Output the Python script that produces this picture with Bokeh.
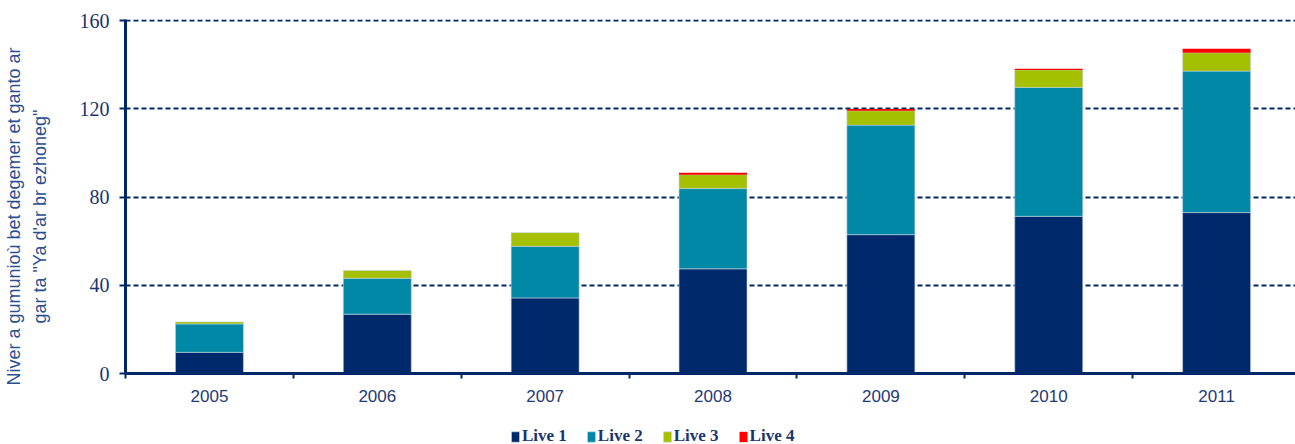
import numpy as np
from bokeh.plotting import figure
from bokeh.layouts import column
from bokeh.models import (ColumnDataSource, Range1d, FixedTicker, LinearAxis, Legend,
                          LegendItem)
from bokeh.embed import file_html
from bokeh.resources import INLINE

# ---- data ----
years = ["2005", "2006", "2007", "2008", "2009", "2010", "2011"]
live1 = [9.6, 26.9, 34.3, 47.5, 63.0, 71.3, 73.0]
live2 = [12.9, 16.3, 23.4, 36.4, 49.7, 58.5, 64.2]
live3 = [0.9, 3.5, 6.2, 6.3, 6.5, 7.9, 8.3]
live4 = [0.0, 0.0, 0.0, 0.9, 0.8, 0.6, 1.8]
series = ["Live 1", "Live 2", "Live 3", "Live 4"]
colors = ["#00296B", "#0088A6", "#A4C000", "#FF0000"]
y_ticks = [0, 40, 80, 120, 160]
y_title_lines = ["Niver a gumunioù bet degemer et ganto ar",
                 'gar ta "Ya d\'ar br ezhoneg"']

NAVY = "#002868"
PAD = "\u00a0" * 8   # nudges the centred, rotated title towards the bottom

pos = [i + 0.5 for i in range(len(years))]
source = ColumnDataSource(dict(x=pos, **{"Live 1": live1, "Live 2": live2,
                                         "Live 3": live3, "Live 4": live4}))

p = figure(width=1295, height=418, output_backend="svg", toolbar_location=None,
           x_range=Range1d(0, 6.97), y_range=Range1d(0, 160.6),
           x_axis_location=None, y_axis_location=None,
           min_border_left=124, min_border_right=0, min_border_top=19,
           min_border_bottom=45)
p.outline_line_color = None
p.background_fill_color = "white"
p.border_fill_color = "white"

bar_kw = dict(x="x", width=0.405, color=colors, source=source,
              line_color=["#c4d2e4", "#c4d2e4", "#c4d2e4", None], line_width=0.6)
p.vbar_stack(series, **bar_kw)

# y axis
yaxis = LinearAxis(ticker=FixedTicker(ticks=y_ticks))
yaxis.axis_line_color = NAVY
yaxis.axis_line_width = 3
yaxis.major_tick_line_color = NAVY
yaxis.major_tick_line_width = 2
yaxis.major_tick_out = 6
yaxis.major_tick_in = 0
yaxis.minor_tick_line_color = None
yaxis.major_label_text_font = "Liberation Serif"
yaxis.major_label_text_font_size = "20px"
yaxis.major_label_text_color = "#1a3470"
yaxis.major_label_standoff = 10
yaxis.axis_label = "\n".join(line + PAD for line in y_title_lines)
yaxis.axis_label_text_font = "Liberation Sans"
yaxis.axis_label_text_font_size = "18px"
yaxis.axis_label_text_font_style = "normal"
yaxis.axis_label_text_color = "#2a4f8f"
yaxis.axis_label_text_line_height = 1.3
yaxis.axis_label_standoff = 27
p.add_layout(yaxis, "left")

# x axis: labels at centers, tick marks at boundaries (minor ticks)
xaxis = LinearAxis(ticker=FixedTicker(ticks=pos,
                                      minor_ticks=list(range(0, len(years) + 1))))
xaxis.major_label_overrides = {pp: yr for pp, yr in zip(pos, years)}
xaxis.axis_line_color = NAVY
xaxis.axis_line_width = 3
xaxis.major_tick_line_color = None
xaxis.major_tick_out = 0
xaxis.major_tick_in = 0
xaxis.minor_tick_line_color = NAVY
xaxis.minor_tick_line_width = 2
xaxis.minor_tick_out = 5
xaxis.minor_tick_in = 0
xaxis.major_label_text_font = "Liberation Sans"
xaxis.major_label_text_font_size = "17px"
xaxis.major_label_text_color = "#1f3a75"
xaxis.major_label_standoff = 11
p.add_layout(xaxis, "below")

# grid
p.ygrid.ticker = FixedTicker(ticks=y_ticks)
p.ygrid.grid_line_color = NAVY
p.ygrid.grid_line_dash = "5 3"
p.ygrid.grid_line_width = 2
p.xgrid.grid_line_color = None

# legend strip: same series, bars kept out of view, legend drawn inside its frame
lg = figure(width=1295, height=26, output_backend="svg", toolbar_location=None,
            x_range=Range1d(0, 6.97), y_range=Range1d(1000, 1001),
            x_axis_location=None, y_axis_location=None,
            min_border_left=0, min_border_right=0, min_border_top=0,
            min_border_bottom=0)
lg.outline_line_color = None
lg.xgrid.grid_line_color = None
lg.ygrid.grid_line_color = None
lg_renderers = lg.vbar_stack(series, **bar_kw)
legend = Legend(items=[LegendItem(label=s, renderers=[r]) for s, r in zip(series, lg_renderers)],
                orientation="horizontal", location=(385, -2),
                glyph_width=10, glyph_height=13, label_standoff=2, spacing=19,
                padding=0, margin=0, border_line_color=None,
                background_fill_alpha=0,
                label_text_font="Liberation Serif", label_text_font_size="17px",
                label_text_font_style="bold", label_text_color="#1a3470",
                label_height=13)
lg.add_layout(legend, "center")

open("out.html", "w").write(file_html(column(p, lg, spacing=0), INLINE))
